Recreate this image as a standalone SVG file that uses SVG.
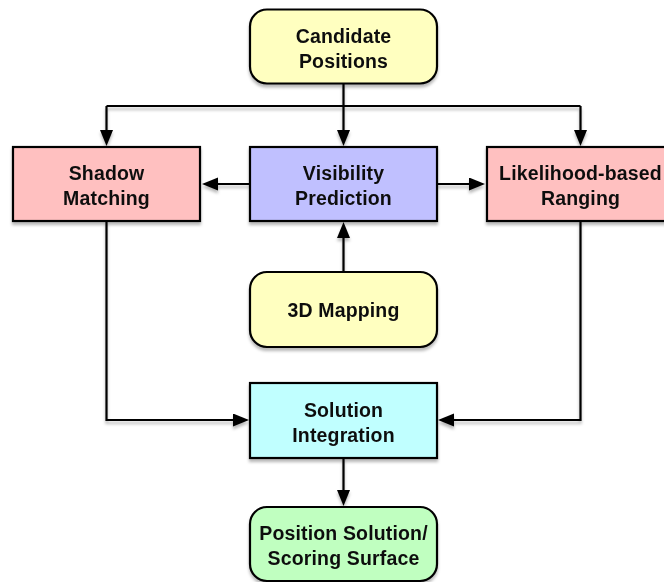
<svg xmlns="http://www.w3.org/2000/svg" width="664" height="582" viewBox="0 0 664 582">
<defs>
<filter id="sh" x="-10%" y="-10%" width="120%" height="130%">
<feDropShadow dx="0" dy="3" stdDeviation="1.6" flood-color="#000" flood-opacity="0.28"/>
</filter>
<marker id="ah" markerUnits="userSpaceOnUse" markerWidth="17" markerHeight="14" refX="7" refY="6.5" orient="auto">
<path d="M0,0 L16,6.5 L0,13 z" fill="#000"/>
</marker>
</defs>
<style>
.box{stroke:#000;stroke-width:2.2}
.t{font-family:"Liberation Sans",Arial,sans-serif;font-weight:bold;font-size:19.5px;letter-spacing:0.15px;fill:#111;text-anchor:middle}
.c{fill:none;stroke:#000;stroke-width:2.2;marker-end:url(#ah)}
.l{fill:none;stroke:#000;stroke-width:2.2}
</style>
<g id="connectors" filter="url(#sh)">
<path class="l" d="M106.5,106 H580.5"/>
<path class="c" d="M343.5,83.5 V137"/>
<path class="c" d="M106.5,106 V137"/>
<path class="c" d="M580.5,106 V137"/>
<path class="c" d="M250,184 H211"/>
<path class="c" d="M437,184 H476"/>
<path class="c" d="M343.5,272 V231"/>
<path class="c" d="M106.5,221 V420 H240"/>
<path class="c" d="M580.5,221 V420 H447"/>
<path class="c" d="M343.5,458 V497"/>
</g>
<g id="candidate" filter="url(#sh)">
<rect class="box" x="250" y="9.5" width="187" height="74" rx="17" fill="#FFFFC0"/>
<text class="t" x="343.5" y="42.5">Candidate</text>
<text class="t" x="343.5" y="67.5">Positions</text>
</g>
<g id="shadow" filter="url(#sh)">
<rect class="box" x="13" y="147" width="187" height="74" fill="#FFC0C0"/>
<text class="t" x="106.5" y="180">Shadow</text>
<text class="t" x="106.5" y="205">Matching</text>
</g>
<g id="visibility" filter="url(#sh)">
<rect class="box" x="250" y="147" width="187" height="74" fill="#C0C0FF"/>
<text class="t" x="343.5" y="180">Visibility</text>
<text class="t" x="343.5" y="205">Prediction</text>
</g>
<g id="likelihood" filter="url(#sh)">
<rect class="box" x="487" y="147" width="187" height="74" fill="#FFC0C0"/>
<text class="t" x="580.5" y="180">Likelihood-based</text>
<text class="t" x="580.5" y="205">Ranging</text>
</g>
<g id="mapping" filter="url(#sh)">
<rect class="box" x="250" y="272" width="187" height="75" rx="17" fill="#FFFFC0"/>
<text class="t" x="343.5" y="316.5">3D Mapping</text>
</g>
<g id="integration" filter="url(#sh)">
<rect class="box" x="250" y="383" width="187" height="75" fill="#C0FFFF"/>
<text class="t" x="343.5" y="416.5">Solution</text>
<text class="t" x="343.5" y="441.5">Integration</text>
</g>
<g id="solution" filter="url(#sh)">
<rect class="box" x="250" y="507" width="187" height="74" rx="17" fill="#C0FFC0"/>
<text class="t" x="343.5" y="540">Position Solution/</text>
<text class="t" x="343.5" y="565">Scoring Surface</text>
</g>
</svg>
